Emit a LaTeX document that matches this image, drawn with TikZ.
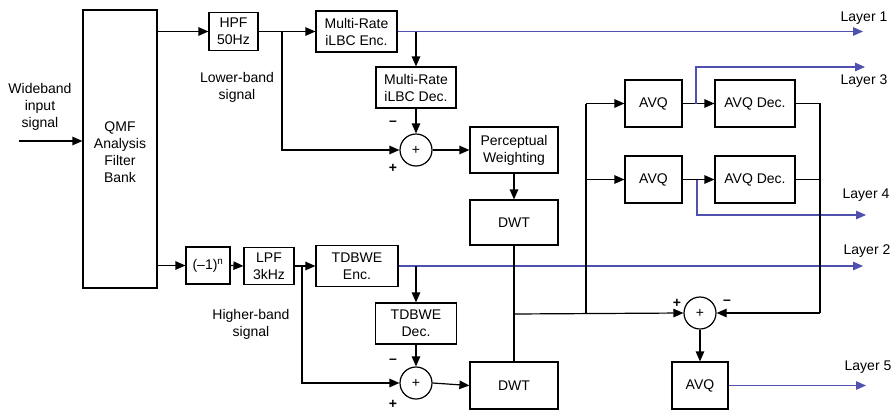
\documentclass[tikz,border=0pt]{standalone}
\usepackage{fontspec}
\setmainfont{Liberation Sans}
\usetikzlibrary{arrows.meta}
\definecolor{layerblue}{RGB}{80,80,175}
\begin{document}
\begin{tikzpicture}[x=1pt,y=-1pt,
  every node/.style={font=\fontsize{14}{17}\selectfont, inner sep=0pt, align=center},
  blk/.style={draw, line width=1.2pt},
  sumnode/.style={draw, circle, line width=1.2pt, minimum size=32pt},
  wire/.style={line width=1.2pt},
  arr/.style={wire, -{Triangle[length=10pt,width=8.5pt]}},
  barr/.style={line width=1.2pt, draw=layerblue, -{Triangle[length=10pt,width=8.5pt]}, color=layerblue},
  sign/.style={font=\fontsize{14}{17}\selectfont\bfseries}
]
\useasboundingbox (0,0) rectangle (895,410);

% blocks
\node[blk, minimum width=74pt, minimum height=278pt] (qmf) at (120,149) {};
\node (qmft) at (120,152) {QMF\\Analysis\\Filter\\Bank};
\node[blk, minimum width=49pt, minimum height=38pt] (hpf) at (233.5,31.5) {HPF\\50Hz};
\node[blk, minimum width=81pt, minimum height=41pt] (enc1) at (356.5,31.5) {Multi-Rate\\iLBC Enc.};
\node[blk, minimum width=80pt, minimum height=41pt] (dec1) at (416,87.5) {Multi-Rate\\iLBC Dec.};
\node[sumnode] (sum1) at (416,150) {+};
\node[blk, minimum width=88pt, minimum height=46pt] (pw) at (514,150) {Perceptual\\Weighting};
\node[blk, minimum width=88pt, minimum height=45pt] (dwt1) at (514,222.5) {DWT};

\node[blk, minimum width=44pt, minimum height=37pt] (neg) at (208,265.5) {(–1)\textsuperscript{n}};
\node[blk, minimum width=50pt, minimum height=37pt] (lpf) at (269,266) {LPF\\3kHz};
\node[blk, minimum width=82pt, minimum height=41pt] (enc2) at (357,266) {TDBWE\\Enc.};
\node[blk, minimum width=81pt, minimum height=41pt] (dec2) at (416,323.5) {TDBWE\\Dec.};
\node[sumnode] (sum2) at (416,383) {+};
\node[blk, minimum width=88pt, minimum height=47pt] (dwt2) at (514,385.5) {DWT};

\node[blk, minimum width=57pt, minimum height=47pt] (avq1) at (653.5,103.5) {AVQ};
\node[blk, minimum width=80pt, minimum height=47pt] (avqd1) at (755,103.5) {AVQ Dec.};
\node[blk, minimum width=57pt, minimum height=47pt] (avq2) at (653.5,179.5) {AVQ};
\node[blk, minimum width=80pt, minimum height=47pt] (avqd2) at (755,179.5) {AVQ Dec.};
\node[sumnode] (sum3) at (700,313) {+};
\node[blk, minimum width=56pt, minimum height=47pt] (avq3) at (700,385.5) {AVQ};

% labels
\node (lwide) at (40,107) {Wideband\\input\\signal};
\node (llow) at (237,87) {Lower-band\\signal};
\node (lhigh) at (251,324) {Higher-band\\signal};
\node (l1) at (864,18) {Layer 1};
\node (l3) at (864,81) {Layer 3};
\node (l4) at (866,195) {Layer 4};
\node (l2) at (867,251) {Layer 2};
\node (l5) at (868,367) {Layer 5};

\node[sign] (s1m) at (393,123) {–};
\node[sign] (s1p) at (393,168) {+};
\node[sign] (s2m) at (393,361) {–};
\node[sign] (s2p) at (393,404) {+};
\node[sign] (s3p) at (677,303) {+};
\node[sign] (s3m) at (727,302) {–};

% coordinates
\coordinate (in) at (19,141);
\coordinate (b1) at (282,31.5);
\coordinate (t1) at (416,31.5);
\coordinate (e1) at (863,31.5);
\coordinate (b2) at (302,266);
\coordinate (t2) at (416,266);
\coordinate (e2) at (863,266);
\coordinate (j1) at (514,314);
\coordinate (j2) at (586,314);
\coordinate (r1) at (820,103.5);
\coordinate (r2) at (820,179.5);
\coordinate (r3) at (820,313);
\coordinate (k3) at (696,103.5);
\coordinate (e3) at (865,67);
\coordinate (k4) at (697,179.5);
\coordinate (e4) at (866,215);
\coordinate (e5) at (866,385.5);

% upper branch
\draw[arr] (in) -- (qmf.west |- in);
\draw[arr] (qmf.east |- hpf) -- (hpf.west);
\draw[arr] (hpf.east) -- (enc1.west);
\draw[arr] (b1) |- (sum1.west);
\draw[barr] (enc1.east) -- (e1);
\draw[arr] (t1) -- (dec1.north);
\draw[arr] (dec1.south) -- (sum1.north);
\draw[arr] (sum1.east) -- (pw.west);
\draw[arr] (pw.south) -- (dwt1.north);

% lower branch
\draw[arr] (qmf.east |- neg) -- (neg.west);
\draw[arr] (neg.east) -- (lpf.west);
\draw[arr] (lpf.east) -- (enc2.west);
\draw[arr] (b2) |- (sum2.west);
\draw[barr] (enc2.east) -- (e2);
\draw[arr] (t2) -- (dec2.north);
\draw[arr] (dec2.south) -- (sum2.north);
\draw[arr] (sum2.east) -- (dwt2.west);

% DWT to AVQ
\draw[wire] (dwt1.south) -- (dwt2.north);
\draw[arr] (j1) -- (sum3.west);
\draw[wire] (j2) -- (j2 |- avq1);
\draw[arr] (j2 |- avq1) -- (avq1.west);
\draw[arr] (j2 |- avq2) -- (avq2.west);
\draw[arr] (avq1.east) -- (avqd1.west);
\draw[arr] (avq2.east) -- (avqd2.west);
\draw[barr] (k3) |- (e3);
\draw[barr] (k4) |- (e4);
\draw[wire] (avqd1.east) -- (r1) -- (r3);
\draw[wire] (avqd2.east) -- (r2);
\draw[arr] (r3) -- (sum3.east);
\draw[arr] (sum3.south) -- (avq3.north);
\draw[barr] (avq3.east) -- (e5);
\end{tikzpicture}
\end{document}
